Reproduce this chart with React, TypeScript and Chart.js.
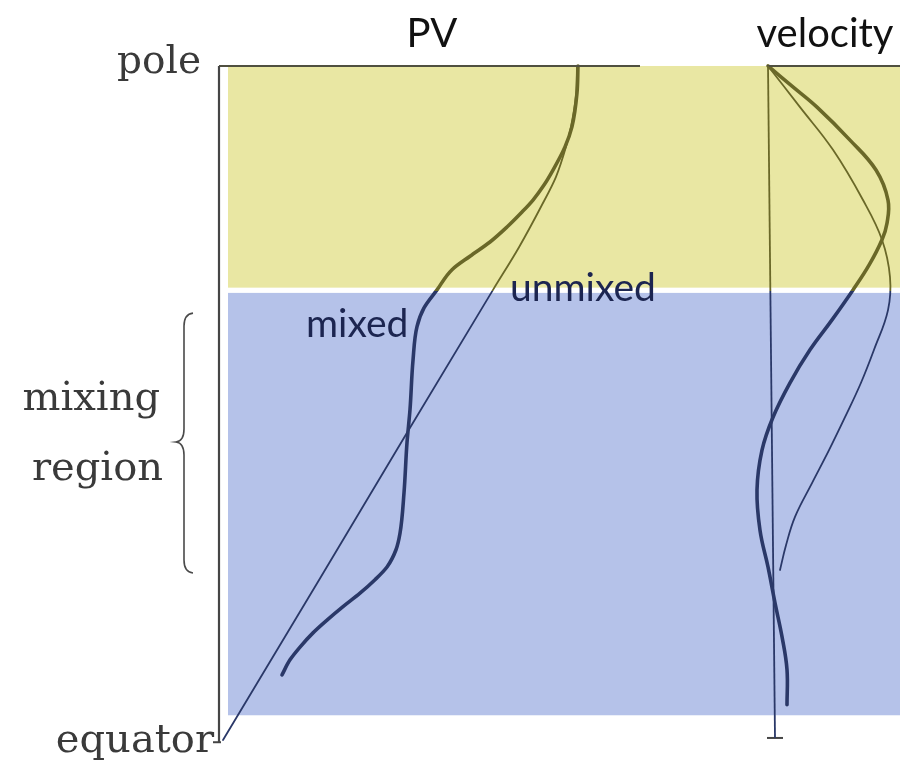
import { useEffect, useRef } from 'react';
import { Chart, registerables } from 'chart.js';

Chart.register(...registerables);

// ---- data (x = horizontal panel position, y = latitude in degrees) ----
const pvUnmixedX = [223, 321, 410, 493, 519, 541, 556, 566, 571, 576, 577];
const pvUnmixedLat = [0, 21.8, 41.7, 60.1, 65.8, 71.2, 75.2, 79.2, 81.9, 86.1, 90];

const pvMixedX = [282, 290, 300, 313, 327, 343, 360, 375, 387, 396, 400, 404, 407, 410, 413, 417, 424, 437, 452, 470, 490, 507, 522, 533, 544, 553, 565, 572, 577, 578];
const pvMixedLat = [8.7, 10.7, 12.4, 14.3, 16.0, 17.8, 19.6, 21.4, 23.1, 25.4, 27.6, 33.0, 39.7, 44.1, 50.7, 55.2, 57.7, 60.1, 62.8, 64.6, 66.5, 68.5, 70.5, 72.1, 74.1, 76.1, 79.2, 81.9, 86.4, 90];

const velMixedX = [787, 787, 782, 775, 768, 760, 757, 762, 773, 790, 810, 832, 853, 869, 882, 887, 888, 876, 850, 817, 792, 768];
const velMixedLat = [4.7, 9.4, 13.8, 18.3, 23.1, 28.0, 33.4, 38.7, 43.1, 47.7, 52.1, 56.1, 60.1, 63.4, 66.8, 69.0, 72.1, 76.1, 80.1, 84.5, 87.3, 90];

const velUnmixedX = [780, 786, 795, 812, 829, 845, 861, 874, 888, 890, 882, 863, 833, 800, 768];
const velUnmixedLat = [22.7, 26.0, 29.8, 34.3, 38.7, 43.1, 47.7, 52.1, 57.4, 61.8, 66.8, 72.1, 78.8, 84.5, 90];

// frame lines
const pvAxisX = [219, 219];
const pvAxisLat = [-0.3, 90];
const pvTopX = [219, 640];
const pvTopLat = [90, 90];
const pvFootX = [213, 221];
const pvFootLat = [-0.3, -0.3];
const velAxisX = [775, 768];
const velAxisLat = [0.27, 90];
const velTopX = [767, 900];
const velTopLat = [90, 90];
const velFootX = [767, 783];
const velFootLat = [0.27, 0.27];

// shaded regions (latitude ranges)
const polarBandLat = [60.4, 90];
const mixingBandLat = [3.3, 59.7];
const bandX = [228, 900];
const colourSplitLat = 60.0;
const braceLat = [57.0, 39.8, 22.3]; // top, middle, bottom

// ---- styles ----
const YELLOW = '#e9e7a3';
const BLUE = '#b5c2e9';
const OLIVE = '#6a6828';
const NAVY = '#2a3868';
const FRAME = '#454545';
const SERIF = '"DejaVu Serif", serif';
const SANS = 'Lato, "Open Sans", sans-serif';

const pts = (xs: number[], ys: number[]) => xs.map((x, i) => ({ x, y: ys[i] }));

export default function App() {
  const ref = useRef<HTMLCanvasElement>(null);

  useEffect(() => {
    const canvas = ref.current;
    if (!canvas) return;

    const twoTone = (ctx: any) => {
      const chart = ctx.chart;
      const ys = chart.scales && chart.scales.y;
      if (!ys || !chart.chartArea) return NAVY;
      const yb = ys.getPixelForValue(colourSplitLat);
      const t = Math.min(1, Math.max(0, yb / chart.height));
      const g = chart.ctx.createLinearGradient(0, 0, 0, chart.height);
      g.addColorStop(0, OLIVE);
      g.addColorStop(t, OLIVE);
      g.addColorStop(t, NAVY);
      g.addColorStop(1, NAVY);
      return g;
    };

    const base = (xs: number[], ys: number[], width: number, color: any) => ({
      data: pts(xs, ys),
      borderColor: color,
      borderWidth: width,
      pointRadius: 0,
      pointHoverRadius: 0,
      borderCapStyle: 'round' as const,
      borderJoinStyle: 'round' as const,
      fill: false,
    });
    const monotone = (xs: number[], ys: number[], width: number, color: any) => ({
      ...base(xs, ys, width, color),
      cubicInterpolationMode: 'monotone' as const,
    });
    const smooth = (xs: number[], ys: number[], width: number, color: any) => ({
      ...base(xs, ys, width, color),
      tension: 0.4,
    });
    const straight = (xs: number[], ys: number[], width: number, color: any) => ({
      ...base(xs, ys, width, color),
      tension: 0,
      borderCapStyle: 'butt' as const,
    });

    const bandsPlugin = {
      id: 'bands',
      beforeDatasetsDraw(chart: any) {
        const { ctx, scales } = chart;
        const x0 = scales.x.getPixelForValue(bandX[0]);
        const x1 = scales.x.getPixelForValue(bandX[1]);
        const draw = (band: number[], color: string) => {
          const yTop = scales.y.getPixelForValue(band[1]);
          const yBot = scales.y.getPixelForValue(band[0]);
          ctx.save();
          ctx.fillStyle = color;
          ctx.fillRect(x0, yTop, x1 - x0, yBot - yTop);
          ctx.restore();
        };
        draw(polarBandLat, YELLOW);
        draw(mixingBandLat, BLUE);
      },
    };

    const labelsPlugin = {
      id: 'labels',
      afterDatasetsDraw(chart: any) {
        const { ctx, scales } = chart;
        const X = (v: number) => scales.x.getPixelForValue(v);
        const Y = (v: number) => scales.y.getPixelForValue(v);
        const text = (s: string, x: number, lat: number, font: string, color: string, align: CanvasTextAlign) => {
          ctx.save();
          ctx.font = font;
          ctx.fillStyle = color;
          ctx.textAlign = align;
          ctx.textBaseline = 'alphabetic';
          ctx.fillText(s, X(x), Y(lat));
          ctx.restore();
        };
        text('pole', 201, 89.0, `39px ${SERIF}`, '#3a3a3a', 'right');
        text('mixing', 160, 44.1, `40px ${SERIF}`, '#3a3a3a', 'right');
        text('region', 163, 34.7, `40px ${SERIF}`, '#3a3a3a', 'right');
        text('equator', 214, -1.6, `40px ${SERIF}`, '#3a3a3a', 'right');
        text('PV', 432, 92.6, `40px ${SANS}`, '#111111', 'center');
        text('velocity', 825, 92.6, `40px ${SANS}`, '#111111', 'center');
        text('mixed', 306, 53.8, `39px ${SANS}`, '#1c2550', 'left');
        text('unmixed', 510, 58.6, `39px ${SANS}`, '#1c2550', 'left');

        // curly brace marking the mixing region
        const sx = X(184), tip = X(176), end = X(193);
        const yt = Y(braceLat[0]), ym = Y(braceLat[1]), yb = Y(braceLat[2]);
        ctx.save();
        ctx.strokeStyle = '#4a4a4a';
        ctx.lineWidth = 1.6;
        ctx.beginPath();
        ctx.moveTo(end, yt);
        ctx.quadraticCurveTo(sx, yt + 1, sx, yt + 13);
        ctx.lineTo(sx, ym - 13);
        ctx.quadraticCurveTo(sx, ym - 1, tip, ym);
        ctx.quadraticCurveTo(sx, ym + 1, sx, ym + 13);
        ctx.lineTo(sx, yb - 13);
        ctx.quadraticCurveTo(sx, yb - 1, end, yb);
        ctx.stroke();
        ctx.restore();
      },
    };

    const chart = new Chart(canvas, {
      type: 'line',
      data: {
        datasets: [
          straight(pvAxisX, pvAxisLat, 2.2, FRAME),
          straight(pvTopX, pvTopLat, 2, '#505040'),
          straight(pvFootX, pvFootLat, 2, FRAME),
          straight(velAxisX, velAxisLat, 1.8, twoTone),
          straight(velTopX, velTopLat, 2, '#505040'),
          straight(velFootX, velFootLat, 2, FRAME),
          monotone(pvUnmixedX, pvUnmixedLat, 1.8, twoTone),
          monotone(pvMixedX, pvMixedLat, 3.6, twoTone),
          smooth(velUnmixedX, velUnmixedLat, 1.8, twoTone),
          smooth(velMixedX, velMixedLat, 3.6, twoTone),
        ] as any,
      },
      options: {
        indexAxis: 'y',
        responsive: false,
        maintainAspectRatio: false,
        animation: false,
        devicePixelRatio: 1,
        layout: { padding: 0 },
        events: [],
        plugins: { legend: { display: false }, tooltip: { enabled: false }, title: { display: false } },
        scales: {
          x: { type: 'linear', display: false, min: 0, max: 900 },
          y: { type: 'linear', display: false, min: -2.94, max: 98.81 },
        },
      },
      plugins: [bandsPlugin, labelsPlugin],
    });
    return () => chart.destroy();
  }, []);

  return (
    <div style={{ position: 'fixed', left: 0, top: 0, width: 900, height: 762, background: '#ffffff' }}>
      <canvas ref={ref} width={900} height={762} style={{ display: 'block', width: 900, height: 762 }} />
    </div>
  );
}
